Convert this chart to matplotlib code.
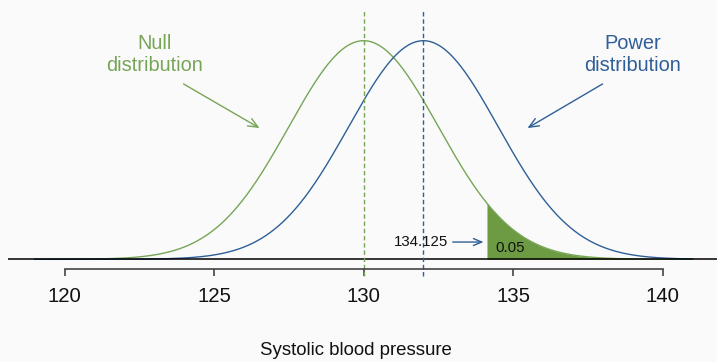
import numpy as np
import matplotlib
matplotlib.use("Agg")
import matplotlib.pyplot as plt

plt.rcParams['font.family'] = ['Liberation Sans', 'DejaVu Sans']

# values
null_mean = 130
power_mean = 132
sd = 2.5
cutoff = 134.125
alpha_label = "0.05"
x_range = [119, 141]
tick_values = [120, 125, 130, 135, 140]
x_title = "Systolic blood pressure"

green = '#77A556'
green_fill = '#6C9B44'
blue = '#2F5F97'
bg = '#FAFAFA'


def dnorm(x, mu, s):
    return np.exp(-0.5 * ((x - mu) / s) ** 2) / (s * np.sqrt(2 * np.pi))


x = np.linspace(x_range[0], x_range[1], 600)
y_null = dnorm(x, null_mean, sd)
y_power = dnorm(x, power_mean, sd)

fig = plt.figure(figsize=(7.17, 3.62), dpi=100, facecolor=bg)
ax = fig.add_axes([8.3 / 717, (362 - 269.3) / 362, 710.6 / 717, 237.4 / 362])
ax.set_facecolor(bg)

ax.plot(x, y_null, color=green, lw=1.0)
ax.plot(x, y_power, color=blue, lw=1.0)

# upper tail of the null distribution
xs = x[x >= cutoff]
xs = np.concatenate([[cutoff], xs])
ax.fill_between(xs, 0, dnorm(xs, null_mean, sd), color=green_fill, lw=0)

ax.axhline(0, color='black', lw=1.1)

dash = (0, (3.2, 2.0))
ax.plot([null_mean, null_mean], [-0.0122, 0.1827], color=green, lw=1.0,
        linestyle=dash, clip_on=False)
ax.plot([power_mean, power_mean], [-0.0122, 0.1827], color=blue, lw=1.0,
        linestyle=dash, clip_on=False)

# labels with arrows
ax.text(123.0, 0.1495, "Null\ndistribution", color=green, fontsize=14.4,
        ha='center', va='center', linespacing=1.2)
ax.annotate("", xy=(126.52, 0.0958), xytext=(123.98, 0.128),
            arrowprops=dict(arrowstyle='->,head_length=0.7,head_width=0.3',
                            color=green, lw=1.0, shrinkA=0, shrinkB=0))
ax.text(139.0, 0.1495, "Power\ndistribution", color=blue, fontsize=14.4,
        ha='center', va='center', linespacing=1.2)
ax.annotate("", xy=(135.48, 0.0958), xytext=(137.99, 0.128),
            arrowprops=dict(arrowstyle='->,head_length=0.7,head_width=0.3',
                            color=blue, lw=1.0, shrinkA=0, shrinkB=0))

ax.text(132.81, 0.0126, str(cutoff), fontsize=10.8, ha='right', va='center',
        color='#111111')
ax.annotate("", xy=(134.01, 0.0126), xytext=(132.98, 0.0126),
            arrowprops=dict(arrowstyle='->,head_length=0.6,head_width=0.25',
                            color=blue, lw=1.0, shrinkA=0, shrinkB=0))
ax.text(134.89, 0.0085, alpha_label, fontsize=10.8, ha='center', va='center',
        color='#111111')

ax.set_xlim(118.12, 141.88)
ax.set_ylim(-0.0073, 0.166)

for side in ['top', 'right', 'left']:
    ax.spines[side].set_visible(False)
ax.spines['bottom'].set_bounds(tick_values[0], tick_values[-1])
ax.spines['bottom'].set_color('#444444')
ax.spines['bottom'].set_linewidth(1.2)
ax.set_yticks([])
ax.set_xticks(tick_values)
ax.tick_params(axis='x', direction='out', length=5, width=1.2,
               color='#444444', labelsize=14.7, pad=8, labelcolor='#111111')
ax.set_xlabel(x_title, fontsize=13.4, labelpad=26, color='#111111', x=0.489)

fig.savefig("out.png", dpi=100, facecolor=bg)
